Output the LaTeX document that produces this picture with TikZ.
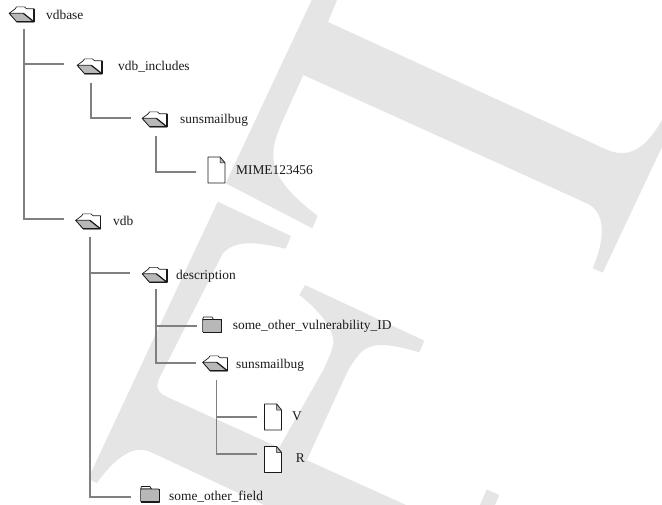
\documentclass[tikz,border=0pt]{standalone}
\usepackage{fontspec}
\setmainfont{Liberation Serif}
\usepackage{xcolor}
\usetikzlibrary{positioning,calc}
\definecolor{palegray}{HTML}{E5E5E5}
\definecolor{branch}{HTML}{808080}
\definecolor{ink}{HTML}{1A1A1A}
\definecolor{foldergray}{HTML}{B8B8B8}
\tikzset{
  letter/.style={fill=palegray},
  treeline/.style={draw=branch,line width=1.9pt,line cap=butt},
  entry/.style={anchor=base west,inner sep=0pt,font=\fontsize{13.4}{15}\selectfont,color=ink},
  openfolder/.style={minimum width=28pt,minimum height=17pt,inner sep=0pt,
    path picture={
      \begin{scope}[shift={(path picture bounding box.center)},x=1pt,y=-1pt,
                    line join=round,draw=ink]
        \draw[line width=0.7pt,fill=white] (-12.3,-1.2) -- (-6.5,-5.5) -- (-5,-7.6) -- (3,-7.6)
          -- (5,-5.8) -- (12.5,-5.8) -- (12.5,7.3) -- (-4.8,7.3) -- cycle;
        \draw[line width=0.7pt,fill=foldergray] (-12.3,-1.2) -- (1.8,-1.2) -- (12.5,7.3)
          -- (-4.8,7.3) -- cycle;
        \draw[line width=1.1pt] (1.8,-1.2) -- (12.5,7.3) -- (-4.8,7.3);
        \draw[line width=1.1pt] (12.5,-5.8) -- (12.5,7.3);
      \end{scope}}},
  closedfolder/.style={minimum width=22pt,minimum height=18pt,inner sep=0pt,
    path picture={
      \begin{scope}[shift={(path picture bounding box.center)},x=1pt,y=-1pt,
                    line join=round,draw=ink]
        \draw[line width=0.7pt,fill=white] (-9.4,-5.5) -- (-8.5,-8) -- (0,-8) -- (1.5,-5.5)
          -- cycle;
        \draw[line width=0.7pt,fill=foldergray,rounded corners=1pt] (-9.4,-5.5) rectangle (9.4,7.5);
        \draw[line width=1.1pt] (9.4,-5.5) -- (9.4,7.5) -- (-9.4,7.5);
      \end{scope}}},
  filedoc/.style={minimum width=19pt,minimum height=28pt,inner sep=0pt,
    path picture={
      \begin{scope}[shift={(path picture bounding box.center)},x=1pt,y=-1pt,
                    line join=round,draw=ink]
        \draw[line width=0.9pt,fill=white] (-8.5,-13) -- (3.5,-13) -- (8.5,-7) -- (8.5,13)
          -- (-8.5,13) -- cycle;
        \draw[line width=0.5pt,fill=foldergray] (3.5,-13) -- (3.5,-7) -- (8.5,-7) -- cycle;
      \end{scope}}}
}
\begin{document}
\begin{tikzpicture}[x=1pt,y=-1pt]
  \path[use as bounding box] (0,0) rectangle (662,505);
  % large pale letters behind the tree
  \path[letter] (311.7,0) -- (337,0) -- (328,22) -- (590,142)
    .. controls (605,149) and (612,153) .. (622,153)
    .. controls (640,153) and (652,137) .. (662,120) -- (662,147) -- (602.7,272.7)
    -- (592.7,268.3) .. controls (600,250) and (602,240) .. (601.7,228)
    .. controls (601,215) and (595,207) .. (586.7,203.3) -- (303.3,75)
    -- (283,120) .. controls (276,136) and (273,146) .. (273.3,156)
    .. controls (274,180) and (295,198) .. (317.7,216) -- (312.3,228.3)
    -- (225.7,183.3) -- cycle;
  \path[letter] (217.7,201.7) -- (291,236) -- (285.7,248.7)
    .. controls (270,245) and (258,243) .. (246.7,243.3)
    .. controls (235,244) and (228,248) .. (223,253)
    -- (160,376.7) .. controls (157,383) and (157,387) .. (158,389)
    .. controls (160,394) and (165,396) .. (170,398.3) -- (406,505)
    -- (480,505) -- (486.7,489.3) -- (499.3,495) -- (495,505) -- (264,505) -- (150,451.7)
    .. controls (143,449) and (137,449) .. (130,452)
    .. controls (118,457) and (107,469) .. (96.7,483.3) -- (88.3,478.3) -- cycle;
  \path[letter] (305,285) -- (424.3,340.7) -- (419.3,352.3)
    .. controls (405,348) and (392,345) .. (380,345)
    .. controls (370,345) and (362,350) .. (358,356)
    .. controls (352,363) and (349,369) .. (346.7,373.3) -- (300,475) -- (275,455)
    -- (323.3,370) .. controls (330,355) and (334,347) .. (333.3,340)
    .. controls (332,325) and (315,307) .. (299.3,295) -- cycle;
  % tree entries
  \node[openfolder] (vdbase) at (21.5,14.5) {};
  \node[entry] (vdbaselabel) at (46,20) {vdbase};
  \node[openfolder] (includes) at (89.5,66.5) {};
  \node[entry] (includeslabel) at (118,70.5) {vdb\_includes};
  \node[openfolder] (topbug) at (154.5,119.5) {};
  \node[entry] (topbuglabel) at (180,124) {sunsmailbug};
  \node[filedoc] (mime) at (216.5,170) {};
  \node[entry] (mimelabel) at (236,175) {MIME123456};
  \node[openfolder] (vdb) at (88,221.5) {};
  \node[entry] (vdblabel) at (113,225.7) {vdb};
  \node[openfolder] (description) at (154.5,275) {};
  \node[entry] (descriptionlabel) at (176,280) {description};
  \node[closedfolder] (vulnid) at (212,325) {};
  \node[entry] (vulnidlabel) at (232.7,330) {some\_other\_vulnerability\_ID};
  \node[openfolder] (subbug) at (215,363.5) {};
  \node[entry] (subbuglabel) at (236,368) {sunsmailbug};
  \node[filedoc] (vfile) at (273,417) {};
  \node[entry] (vfilelabel) at (292,420.7) {V};
  \node[filedoc] (rfile) at (273,459.5) {};
  \node[entry] (rfilelabel) at (295.7,462) {R};
  \node[closedfolder] (otherfield) at (150,494.5) {};
  \node[entry] (otherfieldlabel) at (169,500.7) {some\_other\_field};
  % connectors, each one starts under its parent icon
  \draw[treeline] ([xshift=2.5pt,yshift=-5.5pt]vdbase.south) |- ([xshift=-11pt,yshift=2.5pt]includes.west);
  \draw[treeline] ([xshift=2.5pt,yshift=-5.5pt]vdbase.south) |- ([xshift=-10pt,yshift=2.5pt]vdb.west);
  \draw[treeline] ([xshift=1.5pt,yshift=-7.5pt]includes.south) |- ([xshift=-9pt,yshift=1.5pt]topbug.west);
  \draw[treeline] ([xshift=1.5pt,yshift=-7.5pt]topbug.south) |- ([xshift=-10.5pt,yshift=-2pt]mime.west);
  \draw[treeline] ([xshift=2pt,yshift=-7pt]vdb.south) |- ([xshift=-10pt,yshift=2pt]description.west);
  \draw[treeline] ([xshift=2pt,yshift=-7pt]vdb.south) |- ([xshift=-8.3pt,yshift=-2.5pt]otherfield.west);
  \draw[treeline] ([xshift=1.5pt,yshift=-5.5pt]description.south) |- ([xshift=-4.3pt,yshift=-0.7pt]vulnid.west);
  \draw[treeline] ([xshift=1.5pt,yshift=-5.5pt]description.south) |- ([xshift=-4.5pt,yshift=0.5pt]subbug.west);
  \draw[treeline] ([xshift=1.5pt,yshift=-8pt]subbug.south) |- ([xshift=-6.8pt,yshift=0.3pt]vfile.west);
  \draw[treeline] ([xshift=1.5pt,yshift=-8pt]subbug.south) |- ([xshift=-6.8pt,yshift=5.5pt]rfile.west);
\end{tikzpicture}
\end{document}
